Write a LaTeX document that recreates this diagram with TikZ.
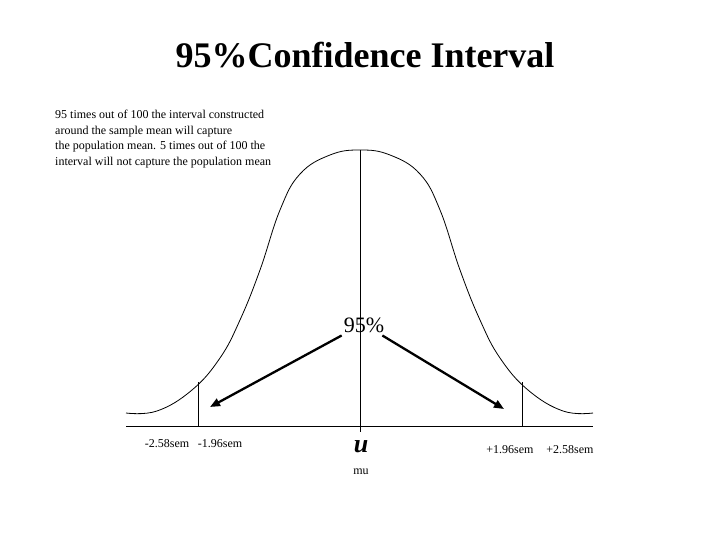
\documentclass[tikz,border=0pt]{standalone}
\usepackage{fontspec}
\setmainfont{Liberation Serif}
\usetikzlibrary{positioning, arrows.meta}

\begin{document}
\begin{tikzpicture}[
  x=1pt, y=-1pt,
  >=Stealth,
  heading/.style={font=\fontsize{36}{40}\selectfont\bfseries, inner sep=0pt},
  note/.style={font=\fontsize{12}{15.5}\selectfont, align=left, inner sep=0pt},
  axislabel/.style={font=\fontsize{12}{14}\selectfont, inner sep=0pt},
  curve/.style={line width=0.8pt, black},
  marker/.style={line width=1pt, black},
  arrow/.style={-{Triangle[length=10pt, width=8pt]}, line width=2.3pt, black},
]
\useasboundingbox (0,0) rectangle (720,540);

% ================= titles =================
\node[heading, anchor=base] (title) at (365,68) {95\%Confidence Interval};
\node[note, anchor=north west] (note) at (55,110)
  {95 times out of 100 the interval constructed\\
   around the sample mean will capture\\
   the population mean. 5 times out of 100 the\\
   interval will not capture the population mean};

% ================= curve and axis =================
\draw[curve] plot[smooth, tension=0.7] coordinates {
  (126,413) (157,411) (192,390) (220,358) (240,320) (260,270) (280,210)
  (300,174) (330,155) (360,150) (390,155) (420,174) (440,210) (460,270)
  (480,320) (500,358) (528,390) (563,411) (593,413)};
\draw[marker] (126,426) -- (593,426);
\draw[marker] (360,150) -- (360,432);
\draw[marker] (198,382) -- (198,426);
\draw[marker] (522,382) -- (522,426);

% ================= labels =================
\node[font=\fontsize{22}{24}\selectfont, inner sep=0pt, anchor=base] (pct) at (364,332) {95\%};
\node[axislabel, anchor=base] (lo258) at (167,447) {-2.58sem};
\node[axislabel, anchor=base] (lo196) at (220,447) {-1.96sem};
\node[axislabel, anchor=base] (hi196) at (510,453) {+1.96sem};
\node[axislabel, anchor=base] (hi258) at (570,453) {+2.58sem};
\node[font=\fontsize{26}{28}\selectfont\bfseries\itshape, inner sep=0pt, anchor=base] (u) at (361,452) {u};
\node[axislabel, anchor=base] (mu) at (361,474) {mu};

% ================= arrows =================
\coordinate (lefttip) at (210,407);
\coordinate (righttip) at (504,409);
\draw[arrow] (pct.south west) ++(-2,3) -- (lefttip);
\draw[arrow] (pct.south east) ++(-2,3) -- (righttip);

\end{tikzpicture}
\end{document}
